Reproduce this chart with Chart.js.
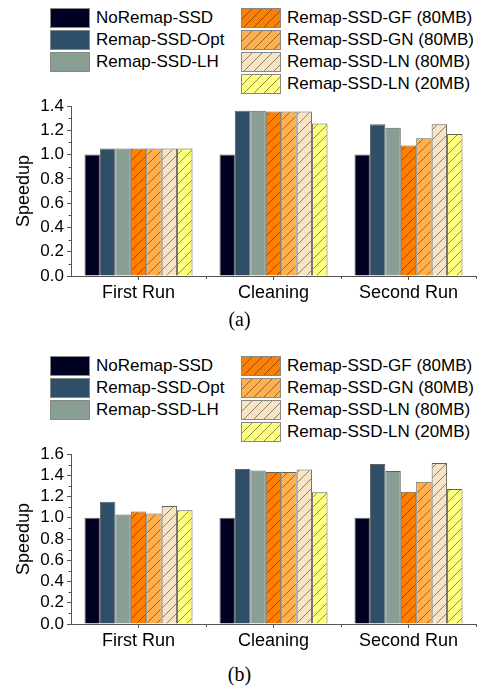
<!DOCTYPE html>
<html>
<head>
<meta charset="utf-8">
<script src="https://cdn.jsdelivr.net/npm/chart.js"></script>
<style>
  body { margin: 0; width: 483px; height: 688px; background: #fff; position: relative; overflow: hidden;
         font-family: 'Liberation Sans', Arial, sans-serif; }
  .box { position: absolute; left: 0; width: 483px; }
  .legend { position: absolute; left: 0; width: 483px; height: 90px; }
  .item { position: absolute; display: flex; align-items: center; font-size: 17px; color: #000; white-space: nowrap; }
  .sw { width: 38px; height: 18px; border: 1px solid #888; margin-right: 6px; box-sizing: content-box; }
  .cap { position: absolute; width: 483px; left: 0; text-align: center; font-family: 'Liberation Serif', 'Times New Roman', serif; font-size: 20px; }
</style>
</head>
<body>
<div class="legend" id="legA" style="top:8px"></div>
<div class="box" style="top:92px;height:218px"><canvas id="chartA"></canvas></div>
<div class="cap" style="left:-2px;top:308px">(a)</div>
<div class="legend" id="legB" style="top:356px"></div>
<div class="box" style="top:440px;height:220px"><canvas id="chartB"></canvas></div>
<div class="cap" style="left:-2px;top:663px">(b)</div>
<script>
const categories = ['First Run', 'Cleaning', 'Second Run'];
const seriesNames = ['NoRemap-SSD', 'Remap-SSD-Opt', 'Remap-SSD-LH', 'Remap-SSD-GF (80MB)',
  'Remap-SSD-GN (80MB)', 'Remap-SSD-LN (80MB)', 'Remap-SSD-LN (20MB)'];

// (a)
const noRemapA = [1.0, 1.0, 1.0];
const optA     = [1.05, 1.36, 1.25];
const lhA      = [1.05, 1.36, 1.22];
const gfA      = [1.05, 1.355, 1.075];
const gnA      = [1.05, 1.355, 1.135];
const ln80A    = [1.05, 1.355, 1.25];
const ln20A    = [1.05, 1.255, 1.17];
const yTicksA  = [0.0, 0.2, 0.4, 0.6, 0.8, 1.0, 1.2, 1.4];

// (b)
const noRemapB = [1.0, 1.0, 1.0];
const optB     = [1.15, 1.46, 1.505];
const lhB      = [1.03, 1.445, 1.44];
const gfB      = [1.06, 1.43, 1.245];
const gnB      = [1.04, 1.43, 1.34];
const ln80B    = [1.11, 1.455, 1.515];
const ln20B    = [1.07, 1.24, 1.27];
const yTicksB  = [0.0, 0.2, 0.4, 0.6, 0.8, 1.0, 1.2, 1.4, 1.6];

const colors = ['#000022', '#2f4e68', '#8a9f94', '#ff8000', '#ffb04c', '#f6e4c4', '#ffff80'];
const hatched = [false, false, false, true, true, true, true];

function hatchCanvas(color) {
  const c = document.createElement('canvas');
  c.width = 10; c.height = 10;
  const g = c.getContext('2d');
  g.fillStyle = color;
  g.fillRect(0, 0, 10, 10);
  g.strokeStyle = 'rgba(40,30,20,0.65)';
  g.lineWidth = 0.8;
  g.beginPath();
  g.moveTo(0, 10); g.lineTo(10, 0);
  g.moveTo(-1, 1); g.lineTo(1, -1);
  g.moveTo(9, 11); g.lineTo(11, 9);
  g.stroke();
  return c;
}

function fillFor(i, ctx) {
  if (!hatched[i]) return colors[i];
  return ctx.createPattern(hatchCanvas(colors[i]), 'repeat');
}

function buildLegend(el) {
  seriesNames.forEach((name, i) => {
    const col = i < 3 ? 0 : 1;
    const row = i < 3 ? i : i - 3;
    const d = document.createElement('div');
    d.className = 'item';
    d.style.left = (col === 0 ? 50 : 241) + 'px';
    d.style.top = (row * 22) + 'px';
    const sw = document.createElement('div');
    sw.className = 'sw';
    if (hatched[i]) sw.style.backgroundImage = 'url(' + hatchCanvas(colors[i]).toDataURL() + ')';
    else sw.style.background = colors[i];
    d.appendChild(sw);
    const t = document.createElement('span');
    t.textContent = name;
    d.appendChild(t);
    el.appendChild(d);
  });
}

const minorTicks = {
  id: 'minorTicks',
  afterDraw(chart) {
    const ctx = chart.ctx;
    const y = chart.scales.y, x = chart.scales.x;
    ctx.save();
    ctx.strokeStyle = '#555';
    ctx.lineWidth = 1;
    ctx.beginPath();
    for (let v = 0.1; v < y.max; v += 0.2) {
      const p = Math.round(y.getPixelForValue(v)) + 0.5;
      ctx.moveTo(y.right - 2.5, p); ctx.lineTo(y.right, p);
    }
    for (let i = 0.5; i < categories.length; i += 1) {
      const p = Math.round(x.getPixelForValue(i)) + 0.5;
      ctx.moveTo(p, x.top); ctx.lineTo(p, x.top + 3);
    }
    ctx.stroke();
    ctx.restore();
  }
};

function makeChart(id, series, yTicks, bottom) {
  const canvas = document.getElementById(id);
  const ctx = canvas.getContext('2d');
  return new Chart(canvas, {
    type: 'bar',
    data: {
      labels: categories,
      datasets: series.map((s, i) => ({
        label: seriesNames[i],
        data: s,
        backgroundColor: fillFor(i, ctx),
        borderColor: 'rgba(70,70,70,0.85)',
        borderWidth: 1,
        categoryPercentage: 0.8,
        barPercentage: 1.0
      }))
    },
    options: {
      responsive: true,
      maintainAspectRatio: false,
      animation: false,
      layout: { padding: { top: 14, right: 7, left: 0, bottom: 0 } },
      plugins: { legend: { display: false }, tooltip: { enabled: false } },
      scales: {
        x: {
          grid: { display: true, drawOnChartArea: false, offset: false, tickLength: 4, color: '#555' },
          border: { color: '#555', width: 1 },
          ticks: { color: '#000', font: { size: 18, family: "'Liberation Sans', Arial" }, padding: 2 },
          afterFit: s => { s.height = bottom; }
        },
        y: {
          min: 0,
          max: yTicks[yTicks.length - 1],
          afterBuildTicks: s => { s.ticks = yTicks.map(v => ({ value: v })); },
          grid: { display: true, drawOnChartArea: false, tickLength: 4, color: '#555' },
          border: { color: '#555', width: 1 },
          ticks: { color: '#000', autoSkip: false, font: { size: 17, family: "'Liberation Sans', Arial" }, padding: 3,
                   callback: v => v.toFixed(1) },
          title: { display: true, text: 'Speedup', color: '#000', padding: { top: 13, bottom: 0 },
                   font: { size: 18, family: "'Liberation Sans', Arial" } },
          afterFit: s => { s.width = 71; }
        }
      }
    },
    plugins: [minorTicks]
  });
}

buildLegend(document.getElementById('legA'));
buildLegend(document.getElementById('legB'));
makeChart('chartA', [noRemapA, optA, lhA, gfA, gnA, ln80A, ln20A], yTicksA, 34);
makeChart('chartB', [noRemapB, optB, lhB, gfB, gnB, ln80B, ln20B], yTicksB, 36);
</script>
</body>
</html>
